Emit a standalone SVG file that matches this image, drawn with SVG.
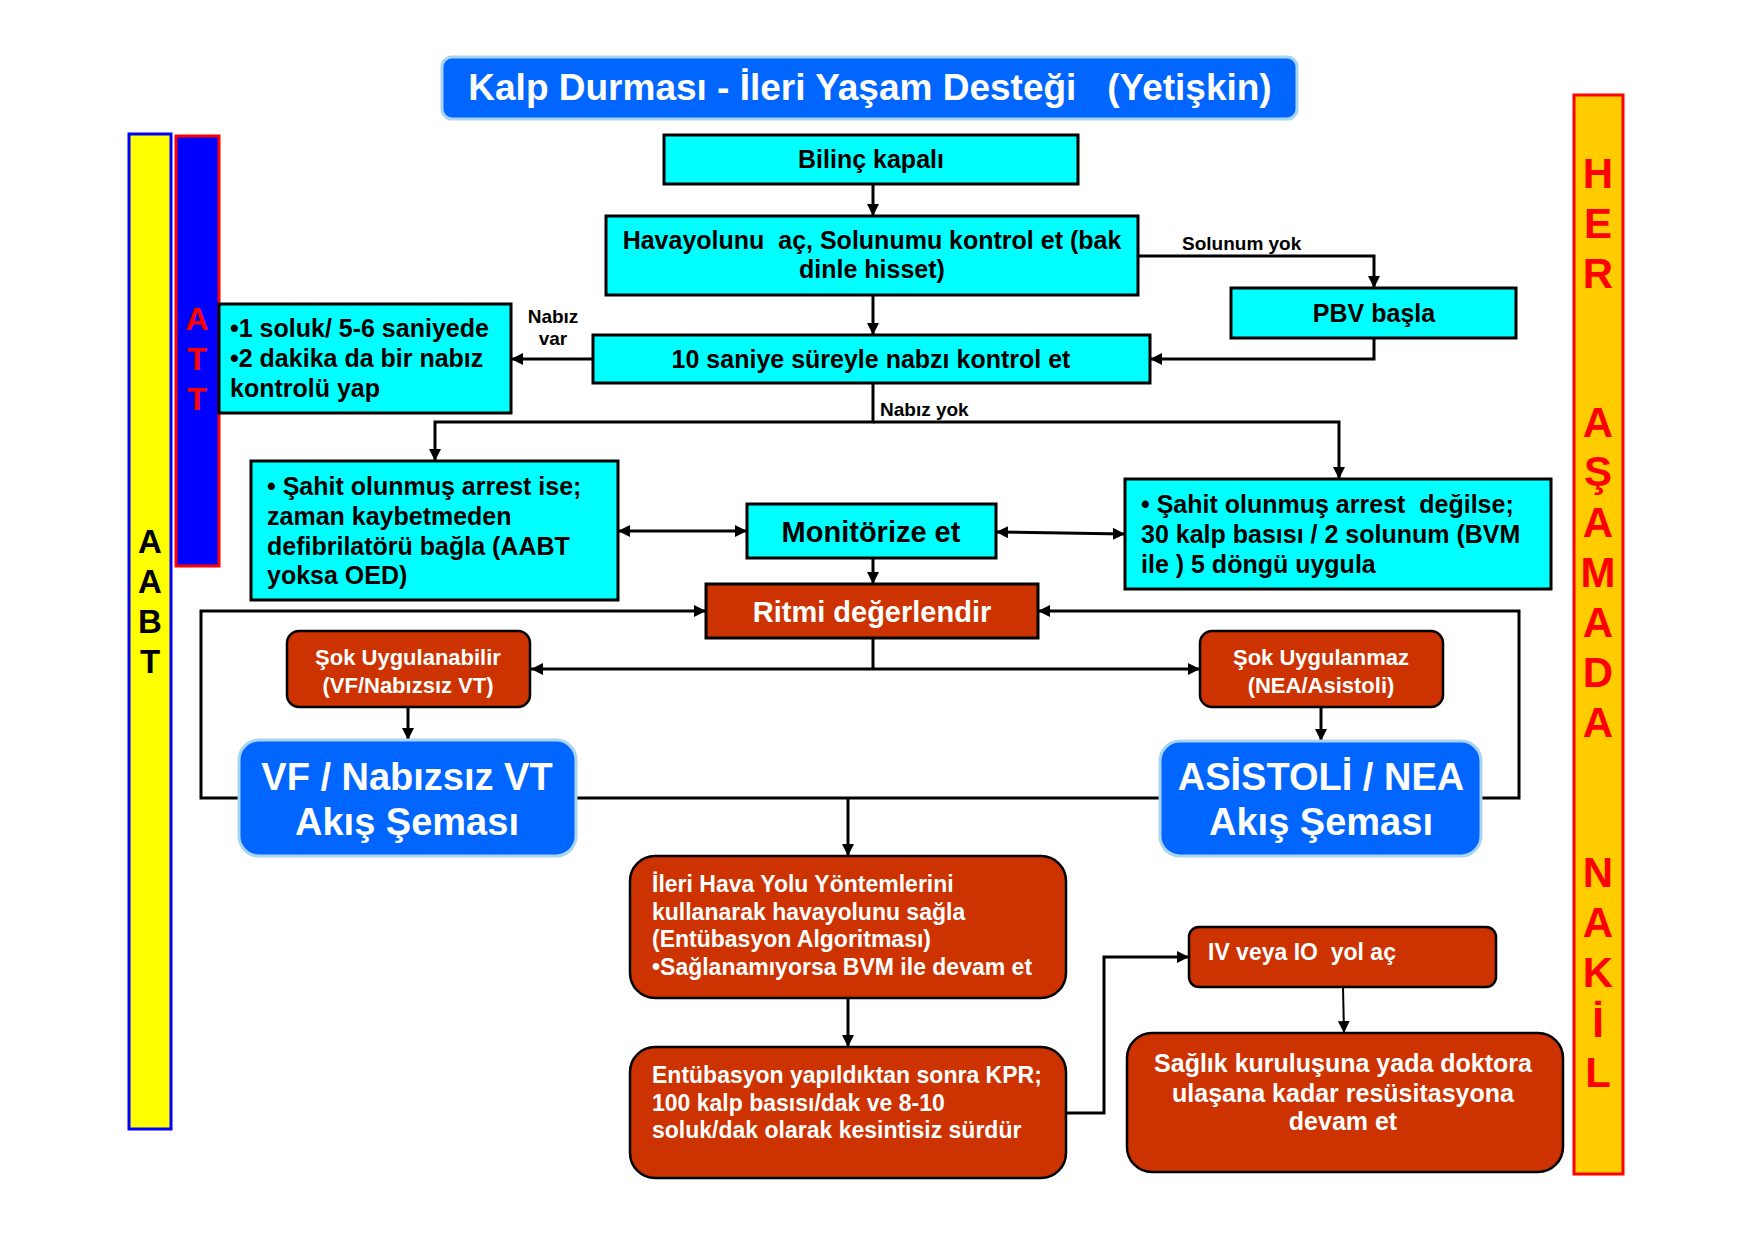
<svg xmlns="http://www.w3.org/2000/svg" width="1755" height="1240" viewBox="0 0 1755 1240">
<defs>
<marker id="ah" viewBox="0 0 10 10" refX="10" refY="5" markerWidth="12" markerHeight="12" markerUnits="userSpaceOnUse" orient="auto-start-reverse">
<path d="M0,0 L10,5 L0,10 z" fill="#000"/>
</marker>
</defs>
<style>
text{font-family:"Liberation Sans",Arial,sans-serif;font-weight:bold;}
.cy{fill:#00FFFF;stroke:#000;stroke-width:3;}
.rd{fill:#CC3300;stroke:#000;stroke-width:2.5;}
.bl{fill:#0066FF;stroke:#A8D4F0;stroke-width:3;}
.t25{font-size:25px;fill:#000;}
.w23{font-size:23px;fill:#fff;}
.w22{font-size:22px;fill:#fff;}
.big{font-size:38px;fill:#fff;text-anchor:middle;}
.lbl{font-size:19px;fill:#000;}
.c{text-anchor:middle;}
.con{fill:none;stroke:#000;stroke-width:3;}
.ar{marker-end:url(#ah);}
.ar2{marker-start:url(#ah);marker-end:url(#ah);}
.vr{font-size:42px;fill:#FF0000;text-anchor:middle;}
</style>
<rect width="1755" height="1240" fill="#fff"/>

<g id="bar-aabt">
<rect x="129" y="134" width="42" height="995" fill="#FFFF00" stroke="#0000FF" stroke-width="3"/>
<text x="150" y="553" font-size="33" class="c">A</text>
<text x="150" y="593" font-size="33" class="c">A</text>
<text x="150" y="633" font-size="33" class="c">B</text>
<text x="150" y="673" font-size="33" class="c">T</text>
</g>
<g id="bar-att">
<rect x="176" y="136" width="43" height="430" fill="#0000FF" stroke="#FF0000" stroke-width="3"/>
<text x="197" y="330" font-size="32" fill="#FF0000" class="c">A</text>
<text x="197" y="370" font-size="32" fill="#FF0000" class="c">T</text>
<text x="197" y="410" font-size="32" fill="#FF0000" class="c">T</text>
</g>
<g id="bar-nakil">
<rect x="1574" y="95" width="49" height="1079" fill="#FFCC00" stroke="#FF0000" stroke-width="3"/>
<text x="1598" y="188" class="vr">H</text>
<text x="1598" y="238" class="vr">E</text>
<text x="1598" y="288" class="vr">R</text>
<text x="1598" y="437" class="vr">A</text>
<text x="1598" y="486" class="vr">Ş</text>
<text x="1598" y="537" class="vr">A</text>
<text x="1598" y="587" class="vr">M</text>
<text x="1598" y="637" class="vr">A</text>
<text x="1598" y="687" class="vr">D</text>
<text x="1598" y="737" class="vr">A</text>
<text x="1598" y="887" class="vr">N</text>
<text x="1598" y="937" class="vr">A</text>
<text x="1598" y="987" class="vr">K</text>
<text x="1598" y="1037" class="vr">İ</text>
<text x="1598" y="1087" class="vr">L</text>
</g>

<g id="title">
<rect x="442" y="57" width="855" height="62" rx="10" class="bl"/>
<text x="870" y="100" font-size="37" fill="#fff" class="c" xml:space="preserve">Kalp Durması - İleri Yaşam Desteği   (Yetişkin)</text>
</g>

<g id="connectors">
<line x1="873" y1="184" x2="873" y2="216" class="con ar"/>
<line x1="873" y1="295" x2="873" y2="335" class="con ar"/>
<polyline points="1138,256 1374,256 1374,288" class="con ar"/>
<polyline points="1374,338 1374,359 1150,359" class="con ar"/>
<line x1="593" y1="359" x2="511" y2="359" class="con ar"/>
<polyline points="873,383 873,422 435,422 435,461" class="con ar"/>
<polyline points="873,422 1339,422 1339,479" class="con ar"/>
<line x1="618" y1="531" x2="747" y2="531" class="con ar2"/>
<line x1="996" y1="532" x2="1125" y2="534" class="con ar2"/>
<line x1="873" y1="558" x2="873" y2="584" class="con ar"/>
<line x1="873" y1="638" x2="873" y2="669" class="con"/>
<line x1="873" y1="669" x2="531" y2="669" class="con ar"/>
<line x1="873" y1="669" x2="1200" y2="669" class="con ar"/>
<line x1="408" y1="707" x2="408" y2="740" class="con ar"/>
<line x1="1321" y1="707" x2="1321" y2="741" class="con ar"/>
<polyline points="239,798 201,798 201,611 706,611" class="con ar"/>
<polyline points="1481,798 1519,798 1519,611 1038,611" class="con ar"/>
<line x1="576" y1="798" x2="1160" y2="798" class="con"/>
<line x1="848" y1="798" x2="848" y2="856" class="con ar"/>
<line x1="848" y1="998" x2="848" y2="1047" class="con ar"/>
<polyline points="1066,1113 1104,1113 1104,957 1189,957" class="con ar"/>
<line x1="1343" y1="987" x2="1344" y2="1033" class="con ar" style="stroke-width:2"/>
<text x="1182" y="250" class="lbl">Solunum yok</text>
<text x="553" y="323" class="lbl c">Nabız</text>
<text x="553" y="345" class="lbl c">var</text>
<text x="880" y="416" class="lbl">Nabız yok</text>
</g>

<g id="n-bilinc">
<rect x="664" y="135" width="414" height="49" class="cy"/>
<text x="871" y="168" class="t25 c">Bilinç kapalı</text>
</g>
<g id="n-havayolu">
<rect x="606" y="216" width="532" height="79" class="cy"/>
<text x="872" y="249" class="t25 c" xml:space="preserve">Havayolunu  aç, Solunumu kontrol et (bak</text>
<text x="872" y="278" class="t25 c">dinle hisset)</text>
</g>
<g id="n-pbv">
<rect x="1231" y="288" width="285" height="50" class="cy"/>
<text x="1374" y="322" class="t25 c">PBV başla</text>
</g>
<g id="n-nabiz">
<rect x="593" y="335" width="557" height="48" class="cy"/>
<text x="871" y="368" class="t25 c">10 saniye süreyle nabzı kontrol et</text>
</g>
<g id="n-soluk">
<rect x="219" y="304" width="292" height="109" class="cy"/>
<text x="230" y="337" class="t25">•1 soluk/ 5-6 saniyede</text>
<text x="230" y="367" class="t25">•2 dakika da bir nabız</text>
<text x="230" y="397" class="t25">kontrolü yap</text>
</g>
<g id="n-sahit1">
<rect x="251" y="461" width="367" height="139" class="cy"/>
<text x="267" y="495" class="t25">• Şahit olunmuş arrest ise;</text>
<text x="267" y="525" class="t25">zaman kaybetmeden</text>
<text x="267" y="555" class="t25">defibrilatörü bağla (AABT</text>
<text x="267" y="584" class="t25">yoksa OED)</text>
</g>
<g id="n-monitor">
<rect x="747" y="504" width="249" height="54" class="cy"/>
<text x="871" y="542" font-size="29" class="c">Monitörize et</text>
</g>
<g id="n-sahit2">
<rect x="1125" y="479" width="426" height="110" class="cy"/>
<text x="1141" y="513" class="t25" xml:space="preserve">• Şahit olunmuş arrest  değilse;</text>
<text x="1141" y="543" class="t25">30 kalp basısı / 2 solunum (BVM</text>
<text x="1141" y="573" class="t25">ile ) 5 döngü uygula</text>
</g>
<g id="n-ritmi">
<rect x="706" y="584" width="332" height="54" fill="#CC3300" stroke="#000" stroke-width="3"/>
<text x="872" y="622" font-size="29" fill="#fff" class="c">Ritmi değerlendir</text>
</g>
<g id="n-sok1">
<rect x="287" y="631" width="243" height="76" rx="12" class="rd"/>
<text x="408" y="665" class="w22 c">Şok Uygulanabilir</text>
<text x="408" y="693" class="w22 c">(VF/Nabızsız VT)</text>
</g>
<g id="n-sok2">
<rect x="1200" y="631" width="243" height="76" rx="12" class="rd"/>
<text x="1321" y="665" class="w22 c">Şok Uygulanmaz</text>
<text x="1321" y="693" class="w22 c">(NEA/Asistoli)</text>
</g>
<g id="n-vf">
<rect x="239" y="740" width="337" height="116" rx="20" class="bl"/>
<text x="407" y="790" class="big">VF / Nabızsız VT</text>
<text x="407" y="835" class="big">Akış Şeması</text>
</g>
<g id="n-asistoli">
<rect x="1160" y="741" width="321" height="115" rx="20" class="bl"/>
<text x="1321" y="790" class="big">ASİSTOLİ / NEA</text>
<text x="1321" y="835" class="big">Akış Şeması</text>
</g>
<g id="n-ileri">
<rect x="630" y="856" width="436" height="142" rx="25" class="rd"/>
<text x="652" y="892" class="w23">İleri Hava Yolu Yöntemlerini</text>
<text x="652" y="920" class="w23">kullanarak havayolunu sağla</text>
<text x="652" y="947" class="w23">(Entübasyon Algoritması)</text>
<text x="652" y="975" class="w23">•Sağlanamıyorsa BVM ile devam et</text>
</g>
<g id="n-entubasyon">
<rect x="630" y="1047" width="436" height="131" rx="25" class="rd"/>
<text x="652" y="1083" class="w23">Entübasyon yapıldıktan sonra KPR;</text>
<text x="652" y="1111" class="w23">100 kalp basısı/dak ve 8-10</text>
<text x="652" y="1138" class="w23">soluk/dak olarak kesintisiz sürdür</text>
</g>
<g id="n-iv">
<rect x="1189" y="927" width="307" height="60" rx="10" class="rd"/>
<text x="1208" y="960" class="w23" xml:space="preserve">IV veya IO  yol aç</text>
</g>
<g id="n-saglik">
<rect x="1127" y="1033" width="436" height="139" rx="25" class="rd"/>
<text x="1343" y="1072" font-size="25" fill="#fff" class="c">Sağlık kuruluşuna yada doktora</text>
<text x="1343" y="1102" font-size="25" fill="#fff" class="c">ulaşana kadar resüsitasyona</text>
<text x="1343" y="1130" font-size="25" fill="#fff" class="c">devam et</text>
</g>
</svg>
